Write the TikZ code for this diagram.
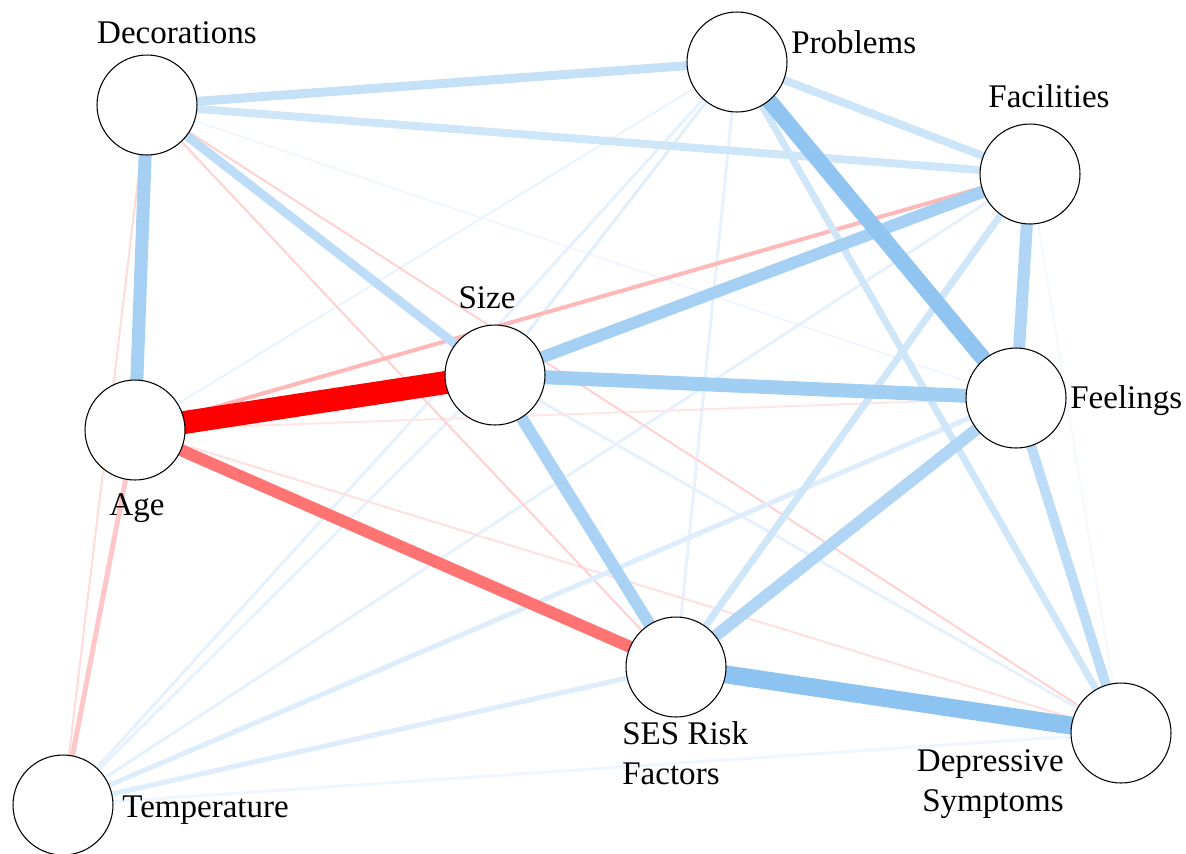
\documentclass[tikz,border=0pt]{standalone}
\usepackage{fontspec}
\setmainfont{Liberation Serif}
\usetikzlibrary{backgrounds}
\definecolor{posblue}{RGB}{135,192,240}
\definecolor{negred}{RGB}{255,0,0}

\begin{document}
\begin{tikzpicture}[x=0.02cm, y=-0.02cm,
  var/.style={circle, draw=black, line width=0.6pt, fill=white, minimum size=2cm, inner sep=0pt},
  lab/.style={font=\fontsize{18.8}{22.7}\selectfont, inner sep=0pt},
  edge/.style={line cap=butt}
]
  \useasboundingbox (0,0) rectangle (1186,853);
  % variables
  \node[var] (dec) at (147,105) {};
  \node[var] (pro) at (737,62) {};
  \node[var] (fac) at (1030,174) {};
  \node[var] (siz) at (495,375) {};
  \node[var] (age) at (135,430) {};
  \node[var] (fee) at (1016,398) {};
  \node[var] (ses) at (676,667) {};
  \node[var] (dep) at (1121,733) {};
  \node[var] (tem) at (63,805) {};
  % labels
  \node[lab, anchor=base] (decl) at (177,43) {Decorations};
  \node[lab, anchor=base west] (prol) at (791,53) {Problems};
  \node[lab, anchor=base] (facl) at (1049,107) {Facilities};
  \node[lab, anchor=base] (sizl) at (487,308) {Size};
  \node[lab, anchor=base] (agel) at (137,515) {Age};
  \node[lab, anchor=base west] (feel) at (1070,408) {Feelings};
  \node[lab, anchor=base west] (teml) at (122,817) {Temperature};
  \node[lab, anchor=north west, align=left] (sesl) at (622,721) {SES Risk\\Factors};
  \node[lab, anchor=north east, align=right] (depl) at (1064,749) {Depressive\\Symptoms};
  % partial correlations, weakest first
  \begin{scope}[on background layer]
    \foreach \a/\b/\w/\c in {dec/fee/2/posblue!12, fac/dep/2/posblue!10, dep/tem/3/posblue!13,
      pro/age/2/posblue!18, pro/tem/3/posblue!22, pro/siz/3/posblue!25, pro/ses/3/posblue!20,
      siz/tem/3/posblue!20, siz/dep/3/posblue!22, fac/tem/3/posblue!22,
      age/fee/2/negred!10, age/dep/2/negred!12, dec/tem/2/negred!14, dec/ses/2/negred!18, dec/dep/2/negred!18,
      fee/tem/5/posblue!28, ses/tem/5/posblue!28, age/tem/5/negred!22, age/fac/4/negred!28,
      pro/dep/7/posblue!40, fac/ses/7/posblue!40, dec/fac/8/posblue!40, pro/fac/8/posblue!42,
      dec/pro/9/posblue!48, dec/siz/9/posblue!55, fee/dep/10/posblue!55, fac/fee/12/posblue!65,
      siz/fac/12/posblue!75, siz/ses/12/posblue!72, age/dec/13/posblue!75, fee/ses/12/posblue!65,
      age/ses/12/negred!55, siz/fee/14/posblue!78, pro/fee/16/posblue!92, ses/dep/18/posblue!95,
      age/siz/23/negred}
      \draw[edge, line width=\w*0.569pt, color=\c] (\a.center) -- (\b.center);
  \end{scope}
\end{tikzpicture}
\end{document}
